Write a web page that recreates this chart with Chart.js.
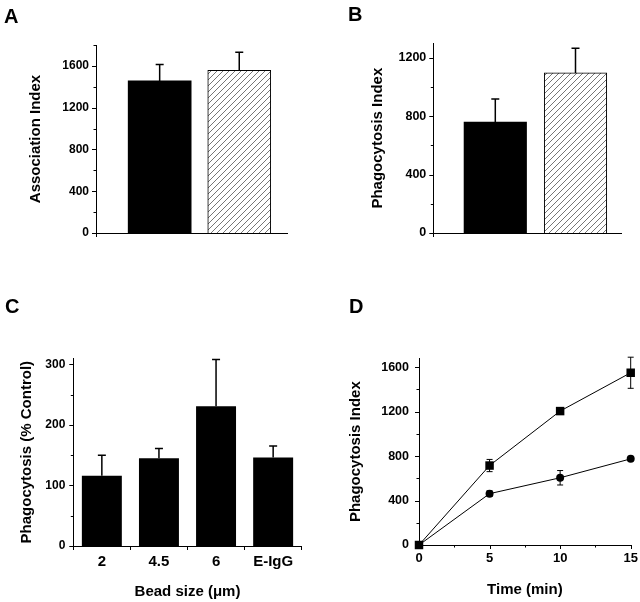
<!DOCTYPE html>
<html>
<head>
<meta charset="utf-8">
<script src="https://cdn.jsdelivr.net/npm/chart.js@4.4.1/dist/chart.umd.min.js"></script>
<style>
    body { margin: 0; background: #fff; }
    #fig { position: relative; width: 640px; height: 602px; overflow: hidden; }
    canvas { position: absolute; }
    .panel { position: absolute; font: bold 20px 'Liberation Sans', Arial, sans-serif; line-height: 20px; color: #000; }
</style>
</head>
<body>
<div id="fig">
    <canvas id="chartA" width="320" height="290" style="left:0;top:0"></canvas>
    <canvas id="chartB" width="320" height="290" style="left:320px;top:0"></canvas>
    <canvas id="chartC" width="320" height="312" style="left:0;top:290px"></canvas>
    <canvas id="chartD" width="320" height="312" style="left:320px;top:290px"></canvas>
    <div class="panel" style="left:4px;top:5.7px">A</div>
    <div class="panel" style="left:348px;top:4px">B</div>
    <div class="panel" style="left:5px;top:295.7px">C</div>
    <div class="panel" style="left:349px;top:295.7px">D</div>
</div>
<script>
// A - association index (black = control, hatched = treated)
const aValues = [1456, 1558];
const aErrors = [157, 172];

// B - phagocytosis index
const bValues = [760, 1097];
const bErrors = [158, 169];

// C - bead size
const cLabels = ['2', '4.5', '6', 'E-IgG'];
const cValues = [116, 145, 231, 146];
const cErrors = [34, 16, 77, 19];

// D - time course
const dTimes = [0, 5, 10, 15];
const dSquares = [0, 715, 1205, 1550];
const dSquareErr = [0, 55, 0, 140];
const dCircles = [0, 462, 605, 775];
const dCircleErr = [0, 25, 65, 0];

const FONT = "'Liberation Sans', Arial, Helvetica, sans-serif";
Chart.defaults.font.family = FONT;
Chart.defaults.color = '#000';

function makeHatch(canvasId) {
    const tile = document.createElement('canvas');
    tile.width = 6; tile.height = 6;
    const g = tile.getContext('2d');
    g.fillStyle = '#fff';
    g.fillRect(0, 0, 6, 6);
    g.strokeStyle = '#666';
    g.lineWidth = 0.9;
    g.beginPath();
    g.moveTo(0, 6); g.lineTo(6, 0);
    g.moveTo(-1, 1); g.lineTo(1, -1);
    g.moveTo(5, 7); g.lineTo(7, 5);
    g.stroke();
    return document.getElementById(canvasId).getContext('2d').createPattern(tile, 'repeat');
}

// short tick marks: labelled ticks longer than unlabelled ones
const tickMarks = {
    id: 'tickMarks',
    afterDraw(chart, args, opts) {
        const ctx = chart.ctx;
        ctx.save();
        ctx.strokeStyle = '#000';
        ctx.lineWidth = 1;
        ctx.beginPath();
        (opts.ids || []).forEach(id => {
            const s = chart.scales[id];
            s.ticks.forEach(t => {
                const len = t.label === '' ? 2.5 : 4;
                const p = Math.round(s.getPixelForValue(t.value)) + 0.5;
                if (s.isHorizontal()) {
                    ctx.moveTo(p, s.top); ctx.lineTo(p, s.top + len);
                } else {
                    ctx.moveTo(s.right - len, p); ctx.lineTo(s.right, p);
                }
            });
        });
        if (opts.extend) {
            const x = Math.round(chart.chartArea.left) + 0.5;
            ctx.moveTo(x, chart.chartArea.bottom);
            ctx.lineTo(x, chart.chartArea.bottom + 4);
        }
        ctx.stroke();
        ctx.restore();
    }
};

const errorBars = {
    id: 'errorBars',
    afterDatasetsDraw(chart, args, opts) {
        const ctx = chart.ctx;
        const yAxis = chart.scales.y;
        ctx.save();
        ctx.strokeStyle = '#000';
        ctx.lineWidth = opts.width || 1;
        chart.data.datasets.forEach((ds, di) => {
            if (!ds.errors) return;
            const meta = chart.getDatasetMeta(di);
            meta.data.forEach((el, i) => {
                const err = ds.errors[i];
                if (!err) return;
                const raw = ds.data[i];
                const v = typeof raw === 'object' ? raw.y : raw;
                const x = el.x;
                const top = yAxis.getPixelForValue(v + err);
                const bottom = yAxis.getPixelForValue(opts.twoSided ? v - err : v);
                const cap = opts.cap || 4;
                ctx.beginPath();
                ctx.moveTo(x, bottom); ctx.lineTo(x, top);
                ctx.moveTo(x - cap, top); ctx.lineTo(x + cap, top);
                if (opts.twoSided) { ctx.moveTo(x - cap, bottom); ctx.lineTo(x + cap, bottom); }
                ctx.stroke();
            });
        });
        ctx.restore();
    }
};

function yScale(c) {
    return {
        min: 0,
        max: c.max,
        border: { color: '#000', width: 1 },
        grid: { display: false, drawTicks: true, tickLength: 4 },
        ticks: {
            stepSize: c.step,
            includeBounds: false,
            autoSkip: false,
            padding: c.pad,
            color: '#000',
            font: { size: c.font, weight: 'bold' },
            callback: v => v % c.major === 0 ? v : ''
        },
        title: { display: true, text: c.title, color: '#000', font: { size: 15, weight: 'bold' }, padding: 0 },
        afterFit: s => { s.width = c.width; }
    };
}

const base = {
    responsive: false,
    animation: false,
    devicePixelRatio: 1,
    events: []
};

function twoBarChart(id, values, errors, c) {
    return new Chart(document.getElementById(id), {
        type: 'bar',
        data: {
            datasets: [{
                data: values.map((v, i) => ({ x: i + 1, y: v })),
                errors: errors,
                backgroundColor: ['#000', makeHatch(id)],
                borderColor: '#000',
                borderWidth: [0, 1],
                barThickness: c.barWidth
            }]
        },
        options: {
            ...base,
            layout: { padding: c.padding },
            scales: {
                x: {
                    type: 'linear', min: c.xMin, max: c.xMax, offset: false,
                    ticks: { display: false },
                    grid: { display: false },
                    border: { color: '#000', width: 1 },
                    afterFit: s => { s.height = 10; }
                },
                y: yScale(c.y)
            },
            plugins: {
                legend: { display: false },
                tooltip: { enabled: false },
                tickMarks: { ids: ['y'], extend: true },
                errorBars: { cap: 4, width: 1.5 }
            }
        },
        plugins: [tickMarks, errorBars]
    });
}

twoBarChart('chartA', aValues, aErrors, {
    padding: { left: 27, top: 45, right: 33, bottom: 47 },
    xMin: 0.2, xMax: 2.6, barWidth: 63,
    y: { max: 1800, step: 200, major: 400, title: 'Association Index', width: 69, font: 12, pad: 3 }
});

twoBarChart('chartB', bValues, bErrors, {
    padding: { left: 49, top: 43.3, right: 18.3, bottom: 47 },
    xMin: 0.227, xMax: 2.576, barWidth: 62.5,
    y: { max: 1300, step: 200, major: 400, title: 'Phagocytosis Index', width: 64.3, font: 12.5, pad: 3 }
});

new Chart(document.getElementById('chartC'), {
    type: 'bar',
    data: {
        labels: cLabels,
        datasets: [{
            data: cValues,
            errors: cErrors,
            backgroundColor: '#000',
            barPercentage: 0.7,
            categoryPercentage: 1
        }]
    },
    options: {
        ...base,
        layout: { padding: { left: 17.7, top: 68.3, right: 18.3, bottom: 1.3 } },
        scales: {
            x: {
                grid: { display: true, drawOnChartArea: false, tickLength: 4, color: '#000', offset: true },
                border: { color: '#000', width: 1 },
                ticks: { padding: 3, color: '#000', font: { size: 15, weight: 'bold' } },
                title: { display: true, text: 'Bead size (μm)', color: '#000', font: { size: 15, weight: 'bold' }, padding: 0 },
                afterFit: s => { s.height = 54.7; }
            },
            y: yScale({ max: 310, step: 50, major: 100, title: 'Phagocytosis (% Control)', width: 55.6, font: 12, pad: 4 })
        },
        plugins: {
            legend: { display: false },
            tooltip: { enabled: false },
            tickMarks: { ids: ['y'] },
            errorBars: { cap: 4, width: 1.5 }
        }
    },
    plugins: [tickMarks, errorBars]
});

new Chart(document.getElementById('chartD'), {
    type: 'line',
    data: {
        datasets: [
            {
                data: dTimes.map((t, i) => ({ x: t, y: dSquares[i] })),
                errors: dSquareErr,
                borderColor: '#000',
                borderWidth: 1,
                backgroundColor: '#000',
                pointStyle: 'rect',
                pointRadius: 6,
                pointBorderWidth: 0,
                tension: 0,
                clip: false
            },
            {
                data: dTimes.map((t, i) => ({ x: t, y: dCircles[i] })),
                errors: dCircleErr,
                borderColor: '#000',
                borderWidth: 1,
                backgroundColor: '#000',
                pointStyle: 'circle',
                pointRadius: 4,
                pointBorderWidth: 0,
                tension: 0,
                clip: false
            }
        ]
    },
    options: {
        ...base,
        layout: { padding: { left: 26.7, top: 68.3, right: 9.3, bottom: 3 } },
        scales: {
            x: {
                type: 'linear', min: 0, max: 15,
                border: { color: '#000', width: 1 },
                grid: { display: false, drawTicks: true, tickLength: 4 },
                ticks: {
                    stepSize: 2.5, autoSkip: false, padding: 1.5, color: '#000',
                    font: { size: 13, weight: 'bold' },
                    callback: v => v % 5 === 0 ? v : ''
                },
                title: { display: true, text: 'Time (min)', color: '#000', font: { size: 15, weight: 'bold' }, padding: 0 },
                afterFit: s => { s.height = 54; }
            },
            y: yScale({ max: 1680, step: 200, major: 400, title: 'Phagocytosis Index', width: 72.3, font: 12.5, pad: 6 })
        },
        plugins: {
            legend: { display: false },
            tooltip: { enabled: false },
            tickMarks: { ids: ['x', 'y'] },
            errorBars: { cap: 3, width: 1, twoSided: true }
        }
    },
    plugins: [tickMarks, errorBars]
});
</script>
</body>
</html>
